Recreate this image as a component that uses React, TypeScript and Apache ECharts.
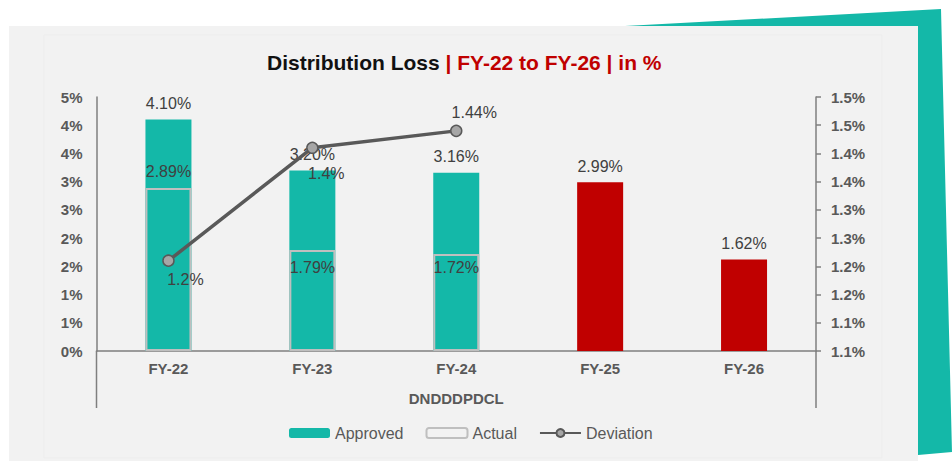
import React, { useEffect, useRef } from "react";
import * as echarts from "echarts";

const categories = ["FY-22", "FY-23", "FY-24", "FY-25", "FY-26"];
const approved = [4.1, 3.2, 3.16, 2.99, 1.62];
const actual: (number | null)[] = [2.89, 1.79, 1.72, null, null];
const deviation: (number | null)[] = [1.21, 1.41, 1.44, null, null];
const deviationLabels = ["1.2%", "1.4%", "1.44%", "", ""];
const projected = [false, false, false, true, true];
const groupName = "DNDDDPDCL";

const TEAL = "#14B8A8";
const RED = "#C00000";
const AXIS = "#7F7F7F";
const TXT = "#595959";
const LBL = "#404040";
const FONT = "'Liberation Sans', Arial, sans-serif";

export default function App() {
  const ref = useRef<HTMLDivElement>(null);
  useEffect(() => {
    document.body.style.margin = "0";
    const chart = echarts.init(ref.current!, null, { renderer: "svg" });
    const actualLabelPos = [
      { position: "top", distance: 8 },
      { position: "insideTop", distance: 10 },
      { position: "insideTop", distance: 6 },
    ];
    const devLabelPos = [
      { position: "bottom", offset: [17, 0] },
      { position: "bottom", offset: [14, 6] },
      { position: "top", offset: [18, 1] },
    ];
    const option: any = {
      animation: false,
      backgroundColor: "#ffffff",
      textStyle: { fontFamily: FONT },
      title: {
        left: 262,
        top: 47,
        text: "{a|Distribution Loss }{b|| FY-22 to FY-26 | in %}",
        textStyle: {
          rich: {
            a: { fontSize: 21, fontWeight: "bold", color: "#111111", fontFamily: FONT },
            b: { fontSize: 21, fontWeight: "bold", color: RED, fontFamily: FONT },
          },
        },
      },
      legend: {
        left: 284,
        top: 420,
        itemWidth: 41,
        itemHeight: 10,
        itemGap: 22,
        textStyle: { color: TXT, fontSize: 16, fontFamily: FONT },
        data: ["Approved", "Actual", "Deviation"],
      },
      grid: { left: 96.5, right: 136, top: 97, bottom: 110, containLabel: false },
      xAxis: {
        type: "category",
        data: categories,
        axisLine: { lineStyle: { color: AXIS, width: 1.5 } },
        axisTick: { show: false },
        axisLabel: { color: TXT, fontWeight: "bold", fontSize: 15, margin: 10 },
        name: groupName,
        nameLocation: "middle",
        nameGap: 40,
        nameTextStyle: { color: TXT, fontWeight: "bold", fontSize: 15 },
      },
      yAxis: [
        {
          type: "value",
          min: 0,
          max: 4.5,
          interval: 0.5,
          axisLine: { show: true, lineStyle: { color: AXIS, width: 1.5 } },
          axisTick: { show: false },
          splitLine: { show: false },
          axisLabel: {
            color: TXT,
            fontWeight: "bold",
            fontSize: 15,
            margin: 14,
            formatter: (v: number) => Math.round(v + 1e-9) + "%",
          },
        },
        {
          type: "value",
          position: "right",
          min: 1.05,
          max: 1.5,
          interval: 0.05,
          axisLine: { show: true, lineStyle: { color: AXIS, width: 1.5 } },
          axisTick: { show: true, length: 5, lineStyle: { color: AXIS, width: 1.5 } },
          splitLine: { show: false },
          axisLabel: {
            color: TXT,
            fontWeight: "bold",
            fontSize: 15,
            margin: 15,
            formatter: (v: number) => (Math.round(v * 10 + 1e-6) / 10).toFixed(1) + "%",
          },
        },
      ],
      series: [
        {
          name: "Approved",
          type: "bar",
          barWidth: 46,
          itemStyle: { color: TEAL },
          data: approved.map((v, i) => ({
            value: v,
            itemStyle: { color: projected[i] ? RED : TEAL },
          })),
          label: {
            show: true,
            position: "top",
            distance: 8,
            color: LBL,
            fontSize: 16,
            formatter: (p: any) => p.value.toFixed(2) + "%",
          },
          z: 2,
        },
        {
          name: "Actual",
          type: "bar",
          barWidth: 46,
          barGap: "-100%",
          itemStyle: { color: "rgba(0,0,0,0)", borderColor: "#BFBFBF", borderWidth: 2 },
          data: actual.map((v, i) => ({
            value: v,
            label: actualLabelPos[i] ? { ...actualLabelPos[i] } : undefined,
          })),
          label: {
            show: true,
            color: LBL,
            fontSize: 16,
            formatter: (p: any) => (p.value == null ? "" : p.value.toFixed(2) + "%"),
          },
          z: 3,
        },
        {
          name: "Deviation",
          type: "line",
          yAxisIndex: 1,
          symbol: "circle",
          symbolSize: 11,
          lineStyle: { color: "#595959", width: 3.5 },
          itemStyle: { color: "#A6A6A6", borderColor: "#595959", borderWidth: 1.5 },
          data: deviation.map((v, i) => ({
            value: v,
            label: devLabelPos[i] ? { ...devLabelPos[i] } : undefined,
          })),
          label: {
            show: true,
            distance: 5,
            color: LBL,
            fontSize: 16,
            formatter: (p: any) => deviationLabels[p.dataIndex],
          },
          z: 5,
        },
      ],
      graphic: [
        {
          type: "polygon",
          z: -20,
          silent: true,
          shape: { points: [[625, 26], [941, 9], [952, 452], [918, 455], [918, 26]] },
          style: { fill: TEAL },
        },
        {
          type: "rect",
          z: -20,
          silent: true,
          shape: { x: 9, y: 26, width: 909, height: 435 },
          style: { fill: "#F2F2F2" },
        },
        {
          type: "rect",
          z: -19,
          silent: true,
          shape: { x: 44, y: 35, width: 838, height: 423 },
          style: { fill: "#F2F2F2", stroke: "#EDEDED", lineWidth: 1 },
        },
        {
          type: "line",
          silent: true,
          shape: { x1: 96.5, y1: 351, x2: 96.5, y2: 408 },
          style: { stroke: AXIS, lineWidth: 1.5 },
        },
        {
          type: "line",
          silent: true,
          shape: { x1: 816, y1: 351, x2: 816, y2: 408 },
          style: { stroke: AXIS, lineWidth: 1.5 },
        },
      ],
    };
    chart.setOption(option);
    return () => chart.dispose();
  }, []);
  return <div ref={ref} style={{ width: 952, height: 461 }} />;
}
